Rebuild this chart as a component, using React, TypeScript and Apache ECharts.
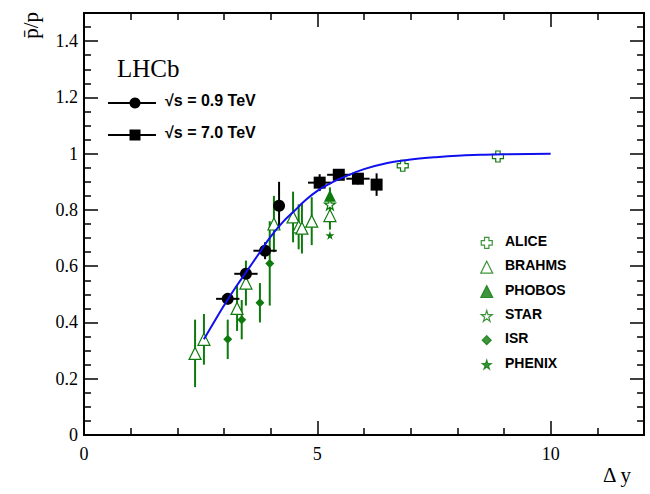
import React, { useEffect, useRef } from "react";
import * as echarts from "echarts";

// [x, y, xerr, yerr]
const lhcb09 = [[3.08, 0.484, 0.25, 0.02], [3.47, 0.573, 0.25, 0.02], [3.88, 0.655, 0.25, 0.03], [4.18, 0.815, 0.0, 0.085]];
const lhcb70 = [[5.05, 0.897, 0.25, 0.03], [5.46, 0.925, 0.25, 0.02], [5.87, 0.911, 0.25, 0.02], [6.27, 0.89, 0.0, 0.04]];
const alice = [[6.83, 0.957, 0, 0.01], [8.87, 0.99, 0, 0.01]];
const brahms = [[2.38, 0.29, 0, 0.12], [2.57, 0.34, 0, 0.09], [3.28, 0.45, 0, 0.08], [3.47, 0.54, 0, 0.08], [4.07, 0.75, 0, 0.1], [4.48, 0.775, 0, 0.09], [4.6, 0.74, 0, 0.08], [4.67, 0.735, 0, 0.09], [4.88, 0.76, 0, 0.085], [5.27, 0.78, 0, 0.05]];
const phobos = [[5.27, 0.85, 0, 0.03]];
const star = [[5.27, 0.82, 0, 0.02]];
const isr = [[3.08, 0.34, 0, 0.07], [3.38, 0.41, 0, 0.07], [3.77, 0.47, 0, 0.07], [3.98, 0.61, 0, 0.15]];
const phenix = [[5.27, 0.71, 0, 0.01]];
const curve = [[2.57, 0.34], [2.8, 0.405], [3, 0.46], [3.25, 0.525], [3.5, 0.585], [3.75, 0.645], [4, 0.705], [4.25, 0.755], [4.5, 0.795], [4.75, 0.835], [5, 0.868], [5.25, 0.892], [5.5, 0.912], [6, 0.945], [6.5, 0.967], [7, 0.979], [7.5, 0.987], [8, 0.993], [8.5, 0.996], [9, 0.998], [10, 1.0]];
const xTicks = [0, 5, 10];
const yTicks = [0, 0.2, 0.4, 0.6, 0.8, 1, 1.2, 1.4];

const G = "#0e7a0e";
const CROSS = "path://M3,0 L7,0 L7,3 L10,3 L10,7 L7,7 L7,10 L3,10 L3,7 L0,7 L0,3 L3,3 Z";
const STAR = "path://M50,0 L61,35 L98,35 L68,57 L79,91 L50,70 L21,91 L32,57 L2,35 L39,35 Z";

function errSeries(data: number[][], color: string) {
  return {
    type: "custom", data, z: 2,
    renderItem: (p: any, api: any) => {
      const x = api.value(0), y = api.value(1), ex = api.value(2), ey = api.value(3);
      const a = api.coord([x, y - ey]), b = api.coord([x, y + ey]);
      const c = api.coord([x - ex, y]), d = api.coord([x + ex, y]);
      const st = { stroke: color, lineWidth: 2 };
      const ch: any[] = [{ type: "line", shape: { x1: a[0], y1: a[1], x2: b[0], y2: b[1] }, style: st }];
      if (ex > 0) ch.push({ type: "line", shape: { x1: c[0], y1: c[1], x2: d[0], y2: d[1] }, style: st });
      return { type: "group", children: ch };
    },
  };
}
function sc(data: number[][], symbol: string, size: number, fill: string, border: string) {
  return { type: "scatter", data: data.map(d => [d[0], d[1]]), symbol, symbolSize: size, z: 3,
    itemStyle: { color: fill, borderColor: border, borderWidth: fill === "#fff" ? 1.2 : 0, opacity: 1 } };
}

export default function App() {
  const ref = useRef<HTMLDivElement>(null);
  useEffect(() => {
    const chart = echarts.init(ref.current!, null, { renderer: "svg" });
    const axisCommon = {
      axisLine: { onZero: false, lineStyle: { color: "#000", width: 2 } },
      axisTick: { inside: true, length: 14, lineStyle: { color: "#000", width: 1.5 } },
      minorTick: { show: true, length: 7, lineStyle: { color: "#000", width: 1.5 } },
      splitLine: { show: false },
      axisLabel: { color: "#000", fontFamily: "Liberation Serif", fontSize: 18 },
    };
    const xBase = { ...axisCommon, type: "value", min: 0, max: 12, interval: 5, minorTick: { ...axisCommon.minorTick, splitNumber: 5 } };
    const yBase = { ...axisCommon, type: "value", min: 0, max: 1.5, interval: 0.2, minorTick: { ...axisCommon.minorTick, splitNumber: 4 } };
    const leg = [["ALICE", CROSS, "#fff", 11], ["BRAHMS", "triangle", "#fff", 12], ["PHOBOS", "triangle", G, 12], ["STAR", STAR, "#fff", 11], ["ISR", "diamond", G, 9], ["PHENIX", STAR, G, 9]];
    const graphics: any[] = [
      { type: "text", left: 117, top: 56, style: { text: "LHCb", font: "25px 'Liberation Serif'", fill: "#000" } },
      { type: "text", left: 20, top: 12, rotation: Math.PI / 2, style: { text: "p̄/p", font: "21px 'Liberation Serif'", fill: "#000" } },
      { type: "text", left: 603, top: 464, style: { text: "Δ y", font: "21px 'Liberation Serif'", fill: "#000" } },
      { type: "line", shape: { x1: 108, y1: 103, x2: 156, y2: 103 }, style: { stroke: "#000", lineWidth: 2 } },
      { type: "circle", shape: { cx: 135, cy: 103, r: 5.5 }, style: { fill: "#000" } },
      { type: "text", left: 165, top: 92, style: { text: "√s = 0.9 TeV", font: "bold 16px 'Liberation Sans'", fill: "#000" } },
      { type: "line", shape: { x1: 108, y1: 135, x2: 156, y2: 135 }, style: { stroke: "#000", lineWidth: 2 } },
      { type: "rect", shape: { x: 129.5, y: 129.5, width: 11, height: 11 }, style: { fill: "#000" } },
      { type: "text", left: 165, top: 124, style: { text: "√s = 7.0 TeV", font: "bold 16px 'Liberation Sans'", fill: "#000" } },
    ];
    leg.forEach((l, i) => {
      graphics.push({ type: "text", left: 505, top: 234 + i * 24.3, style: { text: l[0], font: "bold 14px 'Liberation Sans'", fill: "#000" } });
    });
    chart.setOption({
      animation: false,
      grid: { left: 84, right: 6, top: 13, bottom: 59 },
      xAxis: [
        { ...xBase, axisLabel: { ...axisCommon.axisLabel, margin: 10, formatter: (v: number) => (xTicks.includes(v) ? String(v) : "") } },
        { ...xBase, position: "top", axisLabel: { show: false } },
      ],
      yAxis: [
        { ...yBase, axisLabel: { ...axisCommon.axisLabel, margin: 6, formatter: (v: number) => (yTicks.some(t => Math.abs(t - v) < 1e-6) ? String(+v.toFixed(1)) : "") } },
        { ...yBase, position: "right", axisLabel: { show: false } },
      ],
      graphic: graphics,
      series: [
        errSeries(brahms, G), errSeries(isr, G), errSeries(phobos, G), errSeries(alice, G),
        errSeries(lhcb09, "#000"), errSeries(lhcb70, "#000"),
        sc(brahms, "triangle", 12, "#fff", G), sc(isr, "diamond", 9, G, G), sc(phobos, "triangle", 12, G, G),
        sc(star, STAR, 11, "#fff", G), sc(phenix, STAR, 9, G, G), sc(alice, CROSS, 11, "#fff", G),
        sc(lhcb09, "circle", 12, "#000", "#000"), sc(lhcb70, "rect", 12, "#000", "#000"),
        { type: "line", data: curve, smooth: true, symbol: "none", z: 4, lineStyle: { color: "#1010ee", width: 2 } },
        { type: "scatter", data: leg.map((_, i) => [8.63, 0.683 - i * 0.0865]), z: 5,
          symbol: (v: any, p: any) => leg[p.dataIndex][1], symbolSize: (v: any, p: any) => leg[p.dataIndex][3],
          itemStyle: { color: (p: any) => leg[p.dataIndex][2], borderColor: G, borderWidth: 1.2 } },
      ],
    });
    return () => chart.dispose();
  }, []);
  return <div ref={ref} style={{ position: "absolute", left: 0, top: 0, width: 650, height: 494 }} />;
}
